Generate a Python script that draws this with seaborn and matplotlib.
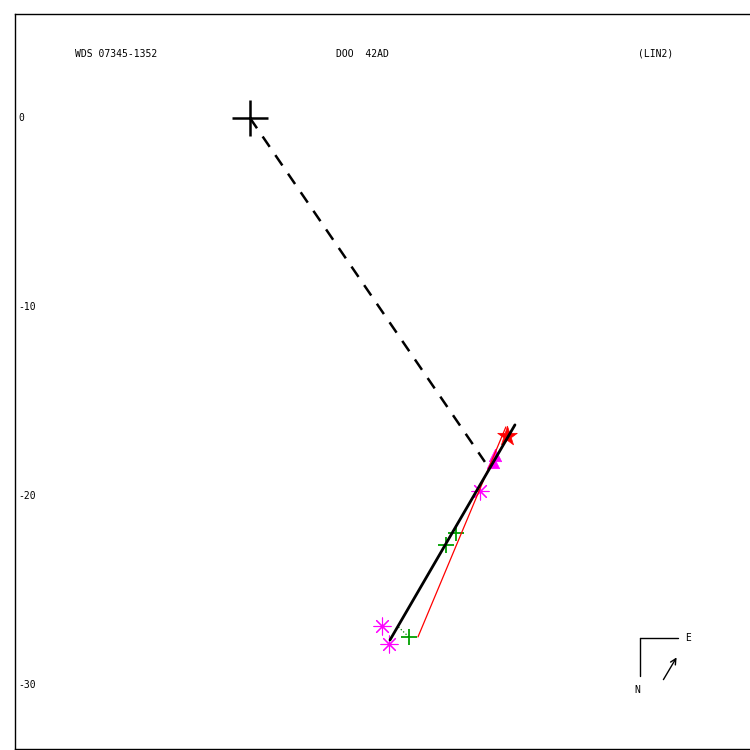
import matplotlib
matplotlib.use("Agg")
import matplotlib.pyplot as plt
import pandas as pd
import seaborn as sns

# Data (arcsec offsets, x = east-ish, y = north-ish as drawn)
primary_x = [0.0]
primary_y = [0.0]

micro_x = [10.90, 10.37, 8.41]
micro_y = [-21.96, -22.59, -27.46]

speckle_x = [12.17, 6.98, 7.35]
speckle_y = [-19.74, -26.88, -27.83]

tri_x = [12.96, 12.86]
tri_y = [-17.83, -18.20]

star_x = [13.60]
star_y = [-16.83]

fit_x = [7.41, 14.02]
fit_y = [-27.62, -16.24]

dash_x = [0.0, 12.43]
dash_y = [0.0, -18.20]

red_x = [8.89, 13.54]
red_y = [-27.46, -16.35]

resid_x = [8.41, 7.82]
resid_y = [-27.46, -26.90]

y_ticks = [0, -10, -20, -30]
title_left = "WDS 07345-1352"
title_mid = "DOO  42AD"
title_right = "(LIN2)"

FONT = "DejaVu Sans Mono"

sns.set_style("white")
plt.rcParams["font.family"] = [FONT]
plt.rcParams["text.color"] = "black"

fig = plt.figure(figsize=(7.5, 7.5), dpi=100)
ax = fig.add_axes([15 / 750, 1 - 749 / 750, 740 / 750, 735 / 750])

ax.set_xlim(-12.43, 26.72)
ax.set_ylim(-33.39, 5.50)

sns.lineplot(x=dash_x, y=dash_y, ax=ax, color="black", linewidth=1.8,
             linestyle=(0, (5, 4)), sort=False, estimator=None)
sns.lineplot(x=red_x, y=red_y, ax=ax, color="red", linewidth=0.9,
             sort=False, estimator=None)
sns.lineplot(x=resid_x, y=resid_y, ax=ax, color="green", linewidth=0.9,
             linestyle=":", sort=False, estimator=None)
sns.lineplot(x=fit_x, y=fit_y, ax=ax, color="black", linewidth=2.0,
             sort=False, estimator=None)

sns.scatterplot(x=primary_x, y=primary_y, ax=ax, marker="+", s=700,
                color="black", linewidth=1.8)
sns.scatterplot(x=micro_x, y=micro_y, ax=ax, marker="+", s=130,
                color="#00a000", linewidth=1.3)
sns.scatterplot(x=speckle_x, y=speckle_y, ax=ax, marker=(8, 2, 0), s=150,
                color="magenta", linewidth=0.8)
sns.scatterplot(x=tri_x, y=tri_y, ax=ax, marker="^", s=80,
                color="magenta", edgecolor="magenta", linewidth=0.5)
sns.scatterplot(x=star_x, y=star_y, ax=ax, marker="*", s=220,
                color="red", edgecolor="red", linewidth=0.5)

ax.set_xticks([])
ax.set_yticks([])
ax.set_xlabel("")
ax.set_ylabel("")
for side in ["left", "top", "bottom"]:
    ax.spines[side].set_color("black")
    ax.spines[side].set_linewidth(1.0)
ax.spines["right"].set_visible(False)

for t in y_ticks:
    ax.text(0.004, t, str(t), transform=ax.get_yaxis_transform(),
            fontsize=7, va="center", ha="left", family=FONT, color="black")

fig.text(75 / 750, 1 - 54 / 750, title_left, fontsize=7, va="center", ha="left", family=FONT)
fig.text(336 / 750, 1 - 54 / 750, title_mid, fontsize=7, va="center", ha="left", family=FONT)
fig.text(638 / 750, 1 - 54 / 750, title_right, fontsize=7, va="center", ha="left", family=FONT)

# Compass
fig.add_artist(plt.Line2D([640 / 750, 678 / 750], [1 - 638 / 750, 1 - 638 / 750],
                          color="black", linewidth=1.0))
fig.add_artist(plt.Line2D([640 / 750, 640 / 750], [1 - 638 / 750, 1 - 676 / 750],
                          color="black", linewidth=1.0))
fig.text(685 / 750, 1 - 638 / 750, "E", fontsize=7, va="center", ha="left", family=FONT)
fig.text(637 / 750, 1 - 690 / 750, "N", fontsize=7, va="center", ha="center", family=FONT)
ax.annotate("", xy=(678 / 750, 1 - 655 / 750), xytext=(662 / 750, 1 - 682 / 750),
            xycoords="figure fraction", textcoords="figure fraction",
            arrowprops=dict(arrowstyle="->", color="black", lw=1.0))

fig.savefig("out.png", dpi=100, facecolor="white")
